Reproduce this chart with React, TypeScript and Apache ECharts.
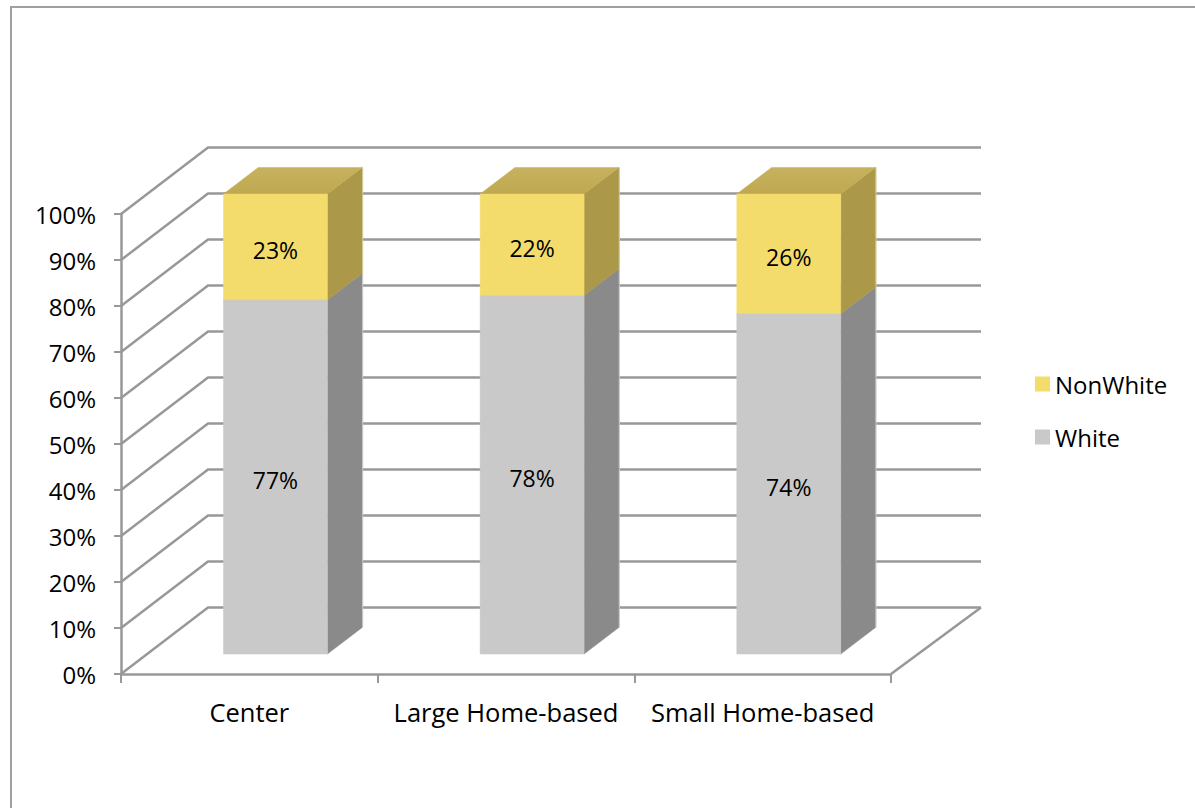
import React, { useEffect, useRef } from "react";
import * as echarts from "echarts";

const categories = ["Center", "Large Home-based", "Small Home-based"];
const whiteValues = [77, 78, 74];
const nonWhiteValues = [23, 22, 26];
const tickValues = [0, 10, 20, 30, 40, 50, 60, 70, 80, 90, 100];

const FONT = "'Open Sans', sans-serif";
const GRID_COLOR = "#989898";
const DEPTH_X = 87;
const DEPTH_Y = 66.5;
const BAR_FRONT = 0.3;
const BAR_BACK = 0.7;
const BAR_RATIO = 0.405;

const palette: Record<string, { front: string; side: string; top: string; topBack: string; edge: string }> = {
  White: { front: "#c9c9c9", side: "#8a8a8a", top: "#a8a8a8", topBack: "#b4b4b4", edge: "#c8c8c8" },
  NonWhite: { front: "#f3dc6c", side: "#ab9848", top: "#bfa850", topBack: "#c6b25e", edge: "#d2c998" },
};

function wallItem(params: any, api: any) {
  const v = api.value(1);
  const cs = params.coordSys;
  const y = api.coord([0, v])[1];
  const left = cs.x;
  const right = cs.x + cs.width;
  const lineStyle = { stroke: GRID_COLOR, lineWidth: 2.5, fill: "none" };
  const points = [
    [left, y],
    [left + DEPTH_X, y - DEPTH_Y],
    [right + DEPTH_X + 3, y - DEPTH_Y],
  ];
  const children: any[] = [{ type: "polyline", shape: { points }, style: lineStyle, silent: true }];
  if (v === tickValues[0]) {
    children.push({
      type: "line",
      shape: { x1: right, y1: y, x2: right + DEPTH_X + 3, y2: y - DEPTH_Y },
      style: lineStyle,
      silent: true,
    });
  }
  return { type: "group", children };
}

function barItem(name: string) {
  return (params: any, api: any) => {
    const c = palette[name];
    const idx = api.value(0);
    const lo = api.value(1);
    const hi = api.value(2);
    const cx = api.coord([idx, 0])[0];
    const half = (api.size([1, 0])[0] * BAR_RATIO) / 2;
    const yLo = api.coord([idx, lo])[1];
    const yHi = api.coord([idx, hi])[1];
    const fx = BAR_FRONT * DEPTH_X;
    const fy = BAR_FRONT * DEPTH_Y;
    const bx = BAR_BACK * DEPTH_X;
    const by = BAR_BACK * DEPTH_Y;
    const x0 = cx - half;
    const x1 = cx + half;
    const poly = (points: number[][], fill: any) => ({
      type: "polygon",
      shape: { points },
      style: { fill, stroke: fill, lineWidth: 0.5 },
      silent: true,
    });
    const topFill = {
      type: "linear",
      x: 0,
      y: 1,
      x2: 0,
      y2: 0,
      colorStops: [
        { offset: 0, color: c.top },
        { offset: 1, color: c.topBack },
      ],
    };
    return {
      type: "group",
      children: [
        poly(
          [
            [x1 + fx, yLo - fy],
            [x1 + bx, yLo - by],
            [x1 + bx, yHi - by],
            [x1 + fx, yHi - fy],
          ],
          c.side
        ),
        {
          type: "line",
          silent: true,
          shape: { x1: x1 + bx + 0.5, y1: yLo - by, x2: x1 + bx + 0.5, y2: yHi - by },
          style: { stroke: c.edge, lineWidth: 1 },
        },
        poly(
          [
            [x0 + fx, yHi - fy],
            [x1 + fx, yHi - fy],
            [x1 + bx, yHi - by],
            [x0 + bx, yHi - by],
          ],
          topFill
        ),
        poly(
          [
            [x0 + fx, yLo - fy],
            [x1 + fx, yLo - fy],
            [x1 + fx, yHi - fy],
            [x0 + fx, yHi - fy],
          ],
          c.front
        ),
        {
          type: "text",
          silent: true,
          style: {
            text: api.value(2) - api.value(1) + "%",
            x: cx + fx,
            y: (yLo + yHi) / 2 - fy + 3,
            fill: "#000000",
            fontFamily: FONT,
            fontSize: 23,
            align: "center",
            verticalAlign: "middle",
            textAlign: "center",
            textVerticalAlign: "middle",
          },
        },
      ],
    };
  };
}

export default function App() {
  const ref = useRef<HTMLDivElement>(null);
  useEffect(() => {
    const chart = echarts.init(ref.current!, null, { renderer: "svg" });
    chart.setOption({
      animation: false,
      backgroundColor: "#ffffff",
      textStyle: { fontFamily: FONT },
      grid: { left: 121, right: 304, top: 214, bottom: 134, containLabel: false },
      graphic: [
        {
          type: "polyline",
          shape: { points: [[11, 808], [11, 7], [1195, 7]] },
          style: { stroke: "#a0a0a0", lineWidth: 2, fill: "none" },
          silent: true,
        },
      ],
      legend: {
        left: 1035,
        top: 372,
        padding: 0,
        orient: "vertical",
        icon: "rect",
        itemWidth: 15,
        itemHeight: 15,
        itemGap: 29,
        selectedMode: false,
        data: ["NonWhite", "White"],
        textStyle: { fontFamily: FONT, fontSize: 24, lineHeight: 24, color: "#000000" },
      },
      xAxis: {
        type: "category",
        data: categories,
        axisLine: { lineStyle: { color: GRID_COLOR, width: 2.5 } },
        axisTick: { show: true, interval: 0, length: 9, lineStyle: { color: GRID_COLOR, width: 2 } },
        axisLabel: { color: "#000000", fontFamily: FONT, fontSize: 25.5, margin: 25, interval: 0, hideOverlap: false },
        splitLine: { show: false },
      },
      yAxis: {
        type: "value",
        min: 0,
        max: 100,
        interval: 10,
        axisLine: { show: true, lineStyle: { color: GRID_COLOR, width: 2.5 } },
        axisTick: { show: true, length: 7, lineStyle: { color: GRID_COLOR, width: 2 } },
        axisLabel: {
          formatter: "{value}%",
          color: "#000000",
          fontFamily: FONT,
          fontSize: 24,
          margin: 25,
          padding: [19, 0, 0, 0],
        },
        splitLine: { show: false },
      },
      series: [
        {
          type: "custom",
          name: "walls",
          renderItem: wallItem,
          data: tickValues.map((v) => [0, v]),
          encode: { x: 0, y: 1 },
          silent: true,
          z: 1,
        },
        {
          type: "custom",
          name: "White",
          renderItem: barItem("White"),
          itemStyle: { color: palette.White.front },
          data: whiteValues.map((v, i) => [i, 0, v]),
          encode: { x: 0, y: [1, 2] },
          silent: true,
          z: 2,
        },
        {
          type: "custom",
          name: "NonWhite",
          renderItem: barItem("NonWhite"),
          itemStyle: { color: palette.NonWhite.front },
          data: nonWhiteValues.map((v, i) => [i, whiteValues[i], whiteValues[i] + v]),
          encode: { x: 0, y: [1, 2] },
          silent: true,
          z: 3,
        },
      ],
    });
    return () => chart.dispose();
  }, []);
  return <div ref={ref} style={{ position: "absolute", left: 0, top: 0, width: 1195, height: 808, overflow: "hidden" }} />;
}
